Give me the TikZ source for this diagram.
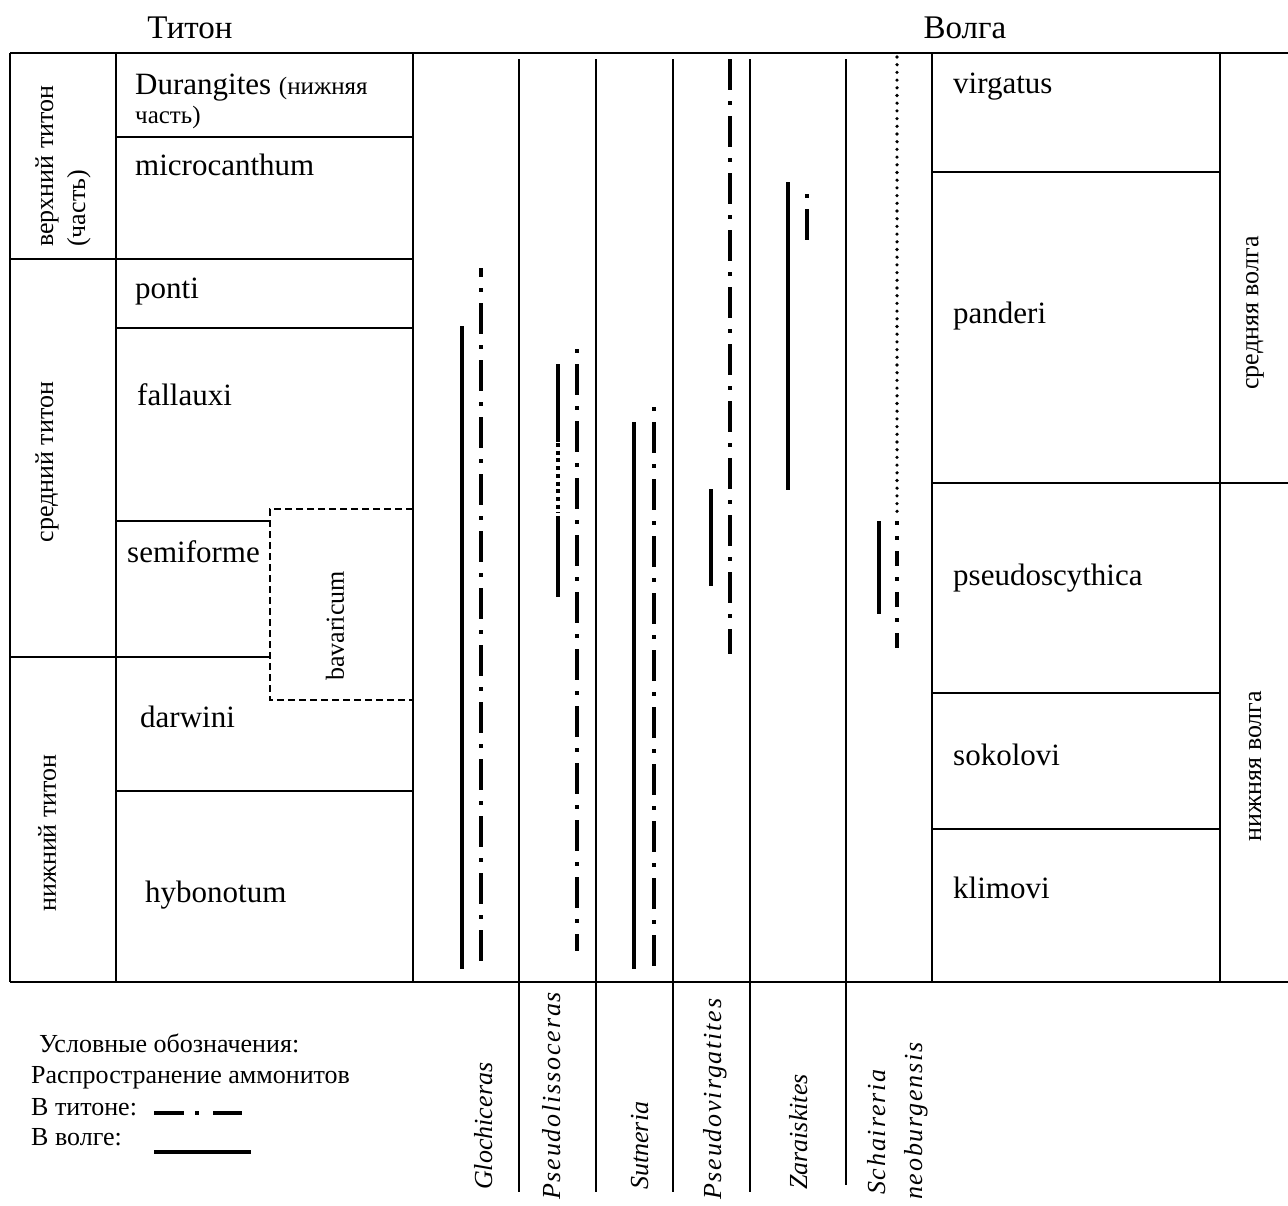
\documentclass[tikz,border=0pt]{standalone}
\usepackage{fontspec}
\setmainfont{Liberation Serif}
\newfontfamily\widefont[LetterSpace=7.0]{Liberation Serif}
\usetikzlibrary{positioning}
\newcommand\titlefont{\fontsize{33}{36}\selectfont}
\newcommand\zonefont{\fontsize{31}{34}\selectfont}
\newcommand\smallzfont{\fontsize{25}{28}\selectfont}
\newcommand\sidefont{\fontsize{26}{29}\selectfont}
\newcommand\genusfont{\fontsize{26}{29}\selectfont\itshape}
\newcommand\widegenus{\fontsize{26}{29}\selectfont\widefont\itshape}

\begin{document}
\begin{tikzpicture}[
    x=1pt, y=-1pt,
    grid/.style={line width=1.2pt},
    rule/.style={line width=2pt},
    volga/.style={line width=4pt},
    titon/.style={line width=4pt, dash pattern=on 31pt off 11pt on 4pt off 11pt},
    shorttiton/.style={line width=4pt, dash pattern=on 15pt off 11pt on 4pt off 11pt},
    rounddots/.style={line width=3.6pt, line cap=round, dash pattern=on 0pt off 7.7pt},
    squaredots/.style={line width=4pt, dash pattern=on 4pt off 3.7pt},
    zone/.style={anchor=base west, inner sep=0pt, font=\zonefont},
    side/.style={inner sep=0pt, rotate=90, font=\sidefont},
    genus/.style={anchor=base west, inner sep=0pt, rotate=90, font=\genusfont},
    widelabel/.style={anchor=base west, inner sep=0pt, rotate=90, font=\widegenus},
    legendtext/.style={anchor=base west, inner sep=0pt, font=\sidefont}
  ]
    \useasboundingbox (0,0) rectangle (1288,1205);

    % titles
    \node[anchor=base, inner sep=0pt, font=\titlefont] (titon) at (190,38) {Титон};
    \node[anchor=base, inner sep=0pt, font=\titlefont] (volga) at (965,38) {Волга};

    % frame
    \draw[rule] (10,53) -- (1288,53);
    \draw[rule] (10,982) -- (1288,982);
    \draw[grid] (10,53) -- (10,982);
    \draw[grid] (116,53) -- (116,982);
    \draw[grid] (413,53) -- (413,982);
    \draw[grid] (932,53) -- (932,982);
    \draw[grid] (1220,53) -- (1220,982);

    % genus columns
    \foreach \gx in {519,596,673,750}
      \draw[grid] (\gx,59) -- (\gx,1192);
    \draw[grid] (846,59) -- (846,1185);

    % titon zones
    \draw[grid] (116,137) -- (413,137);
    \draw[grid] (10,259) -- (413,259);
    \draw[grid] (116,328) -- (413,328);
    \draw[grid] (116,521) -- (270,521);
    \draw[grid] (10,657) -- (270,657);
    \draw[grid] (116,791) -- (413,791);
    \draw[grid, dashed, dash pattern=on 7pt off 4pt] (413,509) -- (270,509) -- (270,700) -- (413,700);

    % volga zones
    \draw[grid] (932,172) -- (1220,172);
    \draw[grid] (932,483) -- (1288,483);
    \draw[grid] (932,693) -- (1220,693);
    \draw[grid] (932,829) -- (1220,829);

    % side labels
    \node[side, anchor=base west] (upper) at (53,247) {верхний титон};
    \node[side, anchor=base west] (upperpart) at (85,247) {(часть)};
    \node[side] (middle) at (47,462) {средний титон};
    \node[side] (lower) at (47,833) {нижний титон};
    \node[side] (middlev) at (1255,313) {средняя волга};
    \node[side] (lowerv) at (1255,766) {нижняя волга};

    % titon zone names
    \node[zone] (durangites) at (135,94) {Durangites {\smallzfont(нижняя}};
    \node[zone, font=\smallzfont] (durangitespart) at (135,123) {часть)};
    \node[zone] (microcanthum) at (135,175) {microcanthum};
    \node[zone] (ponti) at (135,298) {ponti};
    \node[zone] (fallauxi) at (137,405) {fallauxi};
    \node[zone] (semiforme) at (127,562) {semiforme};
    \node[zone] (darwini) at (140,727) {darwini};
    \node[zone] (hybonotum) at (145,902) {hybonotum};
    \node[side] (bavaricum) at (335,626) {bavaricum};

    % volga zone names
    \node[zone] (virgatus) at (953,93) {virgatus};
    \node[zone] (panderi) at (953,323) {panderi};
    \node[zone] (pseudoscythica) at (953,585) {pseudoscythica};
    \node[zone] (sokolovi) at (953,765) {sokolovi};
    \node[zone] (klimovi) at (953,898) {klimovi};

    % ranges: Glochiceras
    \draw[volga] (462,326) -- (462,969);
    \draw[titon, dash phase=22pt] (481,268) -- (481,969);
    % Pseudolissoceras
    \draw[volga] (558,364) -- (558,442);
    \draw[squaredots] (558,443) -- (558,513);
    \draw[volga] (558,516) -- (558,597);
    \draw[titon, dash phase=42pt] (577,349) -- (577,951);
    % Sutneria
    \draw[volga] (634,422) -- (634,969);
    \draw[titon, dash phase=42pt] (654,407) -- (654,969);
    % Pseudovirgatites
    \draw[volga] (711,489) -- (711,586);
    \draw[titon] (730,59) -- (730,654);
    % Zaraiskites
    \draw[volga] (788,182) -- (788,490);
    \draw[titon, dash phase=42pt] (807,194) -- (807,240);
    % Schaireria neoburgensis
    \draw[volga] (879,521) -- (879,614);
    \draw[rounddots] (897,57) -- (897,512);
    \draw[shorttiton, dash phase=11pt] (897,521) -- (897,653);

    % genus names
    \node[genus] (glochiceras) at (492,1190) {Glochiceras};
    \node[widelabel] (pseudolissoceras) at (560,1200) {Pseudolissoceras};
    \node[genus] (sutneria) at (648,1190) {Sutneria};
    \node[widelabel] (pseudovirgatites) at (721,1200) {Pseudovirgatites};
    \node[genus] (zaraiskites) at (807,1190) {Zaraiskites};
    \node[widelabel] (schaireria) at (885,1195) {Schaireria};
    \node[widelabel] (neoburgensis) at (922,1200) {neoburgensis};

    % legend
    \node[legendtext] (legendhead) at (39,1052) {Условные обозначения:};
    \node[legendtext] (legendrange) at (31,1083) {Распространение аммонитов};
    \node[legendtext] (legendtiton) at (31,1115) {В титоне:};
    \node[legendtext] (legendvolga) at (31,1145) {В волге:};
    \draw[line width=4pt, dash pattern=on 30pt off 11pt on 4pt off 14pt] (154,1113) -- (242,1113);
    \draw[volga] (154,1152) -- (251,1152);
  \end{tikzpicture}
\end{document}
